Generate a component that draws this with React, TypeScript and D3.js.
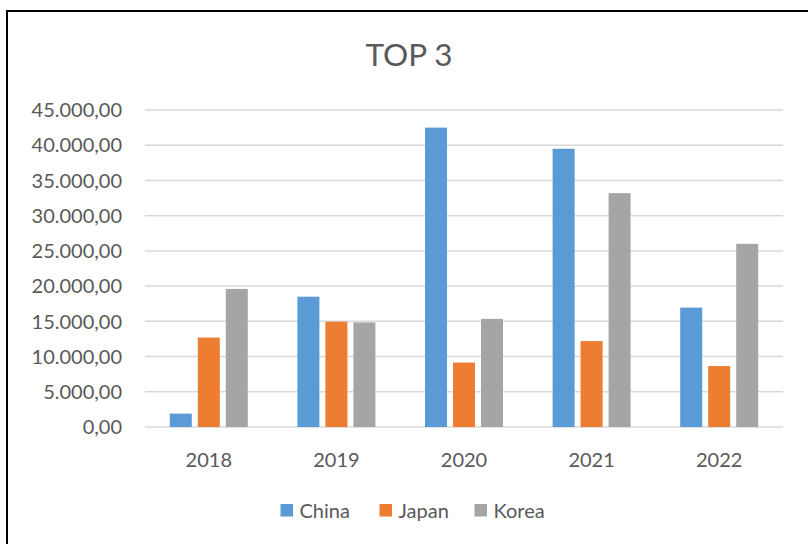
import React, { useEffect, useRef } from "react";
import * as d3 from "d3";

const years = ["2018", "2019", "2020", "2021", "2022"];
const seriesNames = ["China", "Japan", "Korea"];
const china = [1900, 18500, 42500, 39500, 16950];
const japan = [12700, 14950, 9150, 12200, 8650];
const korea = [19600, 14850, 15350, 33200, 26000];
const yTicks = [0, 5000, 10000, 15000, 20000, 25000, 30000, 35000, 40000, 45000];
const colors = ["#5B9BD5", "#ED7D31", "#A5A5A5"];

const W = 808;
const H = 544;

// 45000 -> "45.000,00"
const fmtLabel = (v: number) => {
  const s = d3.format(",.2f")(v);
  return s.replace(/,/g, "#").replace(".", ",").replace(/#/g, ".");
};

export default function App() {
  const svgRef = useRef<SVGSVGElement | null>(null);

  useEffect(() => {
    if (!svgRef.current) return;
    const svg = d3.select(svgRef.current);
    svg.selectAll("*").remove();

    const font = "Lato, Calibri, 'Open Sans', sans-serif";
    const textColor = "#595959";

    svg.append("rect").attr("width", W).attr("height", H).attr("fill", "#fff");

    // chart border (cut off on the right and bottom)
    svg
      .append("rect")
      .attr("x", 7)
      .attr("y", 11)
      .attr("width", W + 20)
      .attr("height", H + 20)
      .attr("fill", "none")
      .attr("stroke", "#000")
      .attr("stroke-width", 2);

    const plot = { left: 145, right: 783, top: 110, bottom: 427 };

    const y = d3.scaleLinear().domain([0, 45000]).range([plot.bottom, plot.top]);
    const x0 = d3.scaleBand<string>().domain(years).range([plot.left, plot.right]);
    const x1 = d3
      .scaleBand<string>()
      .domain(seriesNames)
      .range([0, x0.bandwidth()])
      .paddingInner(0.214)
      .paddingOuter(0.886);

    // gridlines
    svg
      .append("g")
      .selectAll("line")
      .data(yTicks)
      .enter()
      .append("line")
      .attr("x1", plot.left)
      .attr("x2", plot.right)
      .attr("y1", (d) => y(d))
      .attr("y2", (d) => y(d))
      .attr("stroke", "#D9D9D9")
      .attr("stroke-width", 1.5);

    // y labels
    svg
      .append("g")
      .selectAll("text")
      .data(yTicks)
      .enter()
      .append("text")
      .attr("x", 122)
      .attr("y", (d) => y(d))
      .attr("dy", "0.36em")
      .attr("text-anchor", "end")
      .attr("fill", textColor)
      .style("font-family", font)
      .style("font-size", "20px")
      .text((d) => fmtLabel(d));

    // bars
    const seriesData = [china, japan, korea];
    seriesData.forEach((vals, si) => {
      svg
        .append("g")
        .selectAll("rect")
        .data(vals)
        .enter()
        .append("rect")
        .attr("x", (_, i) => (x0(years[i]) || 0) + (x1(seriesNames[si]) || 0))
        .attr("y", (d) => y(d))
        .attr("width", x1.bandwidth())
        .attr("height", (d) => y(0) - y(d))
        .attr("fill", colors[si]);
    });

    // x labels
    svg
      .append("g")
      .selectAll("text")
      .data(years)
      .enter()
      .append("text")
      .attr("x", (d) => (x0(d) || 0) + x0.bandwidth() / 2)
      .attr("y", 467)
      .attr("text-anchor", "middle")
      .attr("fill", textColor)
      .style("font-family", font)
      .style("font-size", "20px")
      .text((d) => d);

    // title
    svg
      .append("text")
      .attr("x", 409)
      .attr("y", 66)
      .attr("text-anchor", "middle")
      .attr("fill", textColor)
      .style("font-family", font)
      .style("font-size", "31.5px")
      .text("TOP 3");

    // legend
    const legendX = [280.5, 379.5, 474.5];
    const lg = svg.append("g");
    seriesNames.forEach((name, i) => {
      lg.append("rect")
        .attr("x", legendX[i])
        .attr("y", 504)
        .attr("width", 12.5)
        .attr("height", 12.5)
        .attr("fill", colors[i]);
      lg.append("text")
        .attr("x", legendX[i] + 19)
        .attr("y", 517.5)
        .attr("fill", textColor)
        .style("font-family", font)
        .style("font-size", "20px")
        .text(name);
    });
  }, []);

  return (
    <svg
      ref={svgRef}
      width={W}
      height={H}
      style={{ position: "absolute", left: 0, top: 0, display: "block" }}
    />
  );
}
